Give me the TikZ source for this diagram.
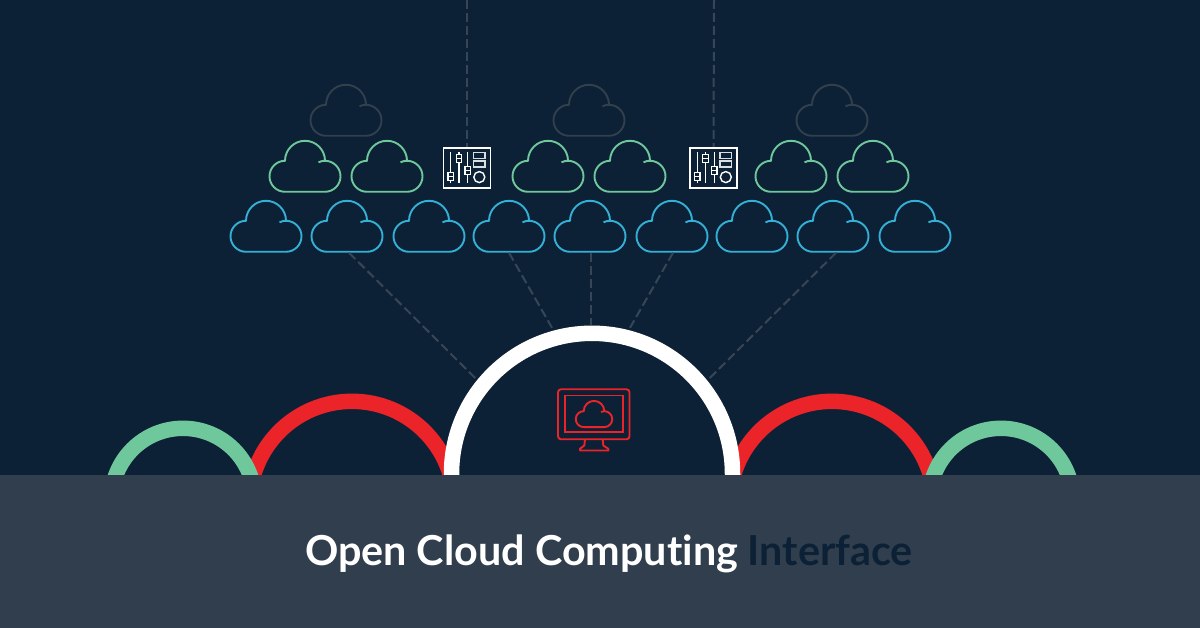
\documentclass[tikz,border=0pt]{standalone}
\usepackage{fontspec}
\setmainfont{Lato}[Ligatures=NoCommon]
\usepackage{tikz}
\usetikzlibrary{positioning, calc}
\definecolor{navybg}{HTML}{0C2135}
\definecolor{bandgray}{HTML}{303E4D}
\definecolor{cloudblue}{HTML}{34AFD6}
\definecolor{cloudgreen}{HTML}{6FC79C}
\definecolor{cloudfaint}{HTML}{323F4D}
\definecolor{archred}{HTML}{EB2429}
\definecolor{dashgray}{HTML}{374656}

\begin{document}
\begin{tikzpicture}[x=1pt, y=1pt,
    cloudicon/.pic={
      \path[draw, pic actions, line join=round] (20,0) -- (-20,0)
        arc[start angle=270, end angle=90, radius=15.5]
        arc[start angle=180, end angle=0, radius=20]
        (13.5,29.5) .. controls (15.5,30.6) and (18,31) .. (20,31)
        arc[start angle=90, end angle=-90, radius=15.5];
      \node[cloudspot] (-box) at (0,25) {};
    },
    mixicon/.pic={
      \node[mixbox] (-box) at (0,0) {};
      \foreach \xx/\hy in {-16.3/-8.7, -8/9, 0.7/-2.7} {
        \draw[white, line width=1.4pt] (\xx,-15.3) -- (\xx,15.3);
        \draw[white, line width=1.3pt, fill=navybg] (\xx-2.7,\hy-4) rectangle (\xx+2.7,\hy+4);
        \draw[white, line width=1pt] (\xx-2.7,\hy) -- (\xx+2.7,\hy);
      }
      \draw[white!85!navybg, line width=1.4pt] (6.5,9) rectangle (18,15);
      \draw[white!85!navybg, line width=1.4pt] (6.5,0.7) rectangle (18,6.7);
      \draw[white, line width=1.4pt] (12.3,-9.3) circle (5.5);
    },
    cloudspot/.style={minimum width=72pt, minimum height=50pt, inner sep=0pt},
    mixbox/.style={rectangle, draw=white, line width=1.6pt, minimum width=47pt,
                   minimum height=40pt, inner sep=0pt},
    blueline/.style={draw=cloudblue, line width=1.9pt},
    greenline/.style={draw=cloudgreen, line width=1.9pt},
    faintline/.style={draw=cloudfaint, line width=1.9pt},
    dashline/.style={draw=dashgray, line width=2pt, dash pattern=on 9pt off 4pt},
    archline/.style={line width=15.5pt},
    iconline/.style={draw=archred, line width=1.9pt}]

    % Background
    \useasboundingbox (0,-0.2) rectangle (1200,626.8);
    \fill[navybg] (-3,-3) rectangle (1203,630);

    % Free ends of the dashed lines
    \coordinate (top1) at (467,627);
    \coordinate (top2) at (714,627);
    \coordinate (arch1) at (477,247);
    \coordinate (arch2) at (552,299);
    \coordinate (arch3) at (591,302);
    \coordinate (arch4) at (630,299);
    \coordinate (arch5) at (708,247);

    % Top row of clouds
    \foreach \nm/\xx in {f1/346, f2/589, f3/832}
      \pic[faintline] (\nm) at (\xx,491) {cloudicon};

    % Middle row of clouds
    \foreach \nm/\xx in {g1/305, g2/387, g3/548, g4/630, g5/791, g6/873}
      \pic[greenline] (\nm) at (\xx,435) {cloudicon};

    % Bottom row of clouds
    \foreach \nm/\xx in {b1/266, b2/347, b3/429, b4/509, b5/590, b6/672, b7/752, b8/833, b9/915}
      \pic[blueline] (\nm) at (\xx,375) {cloudicon};

    % Control panels
    \pic (mix1) at (467,459) {mixicon};
    \pic (mix2) at (713.5,459) {mixicon};

    % Dashed lines
    \draw[dashline] (top1) -- (mix1-box.north);
    \draw[dashline] (top2) -- (mix2-box.north);
    \draw[dashline] ([xshift=2pt]b2-box.south) -- (arch1);
    \draw[dashline] (b4-box.south) -- (arch2);
    \draw[dashline] ([xshift=1pt]b5-box.south) -- (arch3);
    \draw[dashline] ([xshift=1pt]b6-box.south) -- (arch4);
    \draw[dashline] ([xshift=3pt]b8-box.south) -- (arch5);

    % Arches
    \draw[archline, archred] (249.5,123) arc[start angle=180, end angle=0, radius=102.5];
    \draw[archline, archred] (729.5,123) arc[start angle=180, end angle=0, radius=102.5];
    \draw[archline, cloudgreen] (111.5,127) arc[start angle=180, end angle=0, radius=71.5];
    \draw[archline, cloudgreen] (929.5,127) arc[start angle=180, end angle=0, radius=71.5];
    \draw[archline, white] (451.5,140) -- (451.5,153) arc[start angle=180, end angle=0, radius=140.5] -- (732.5,140);

    % Monitor
    \draw[iconline, rounded corners=3pt] (558,187.5) rectangle (629.5,237.5);
    \draw[iconline] (564.7,194.7) rectangle (623.3,231.3);
    \pic[iconline, scale=0.514] (screen) at (594,199.7) {cloudicon};
    \draw[iconline, line join=round] (585,187.5) -- (584.3,181.3) -- (580,178) -- (580,176.3) -- (608.3,176.3)
      -- (608.3,178) -- (603.3,181.3) -- (602.7,187.5);

    % Bottom band and title
    \fill[bandgray] (-3,-3) rectangle (1203,152);
    \node[text=white, font=\fontsize{41.3}{46}\selectfont\bfseries, inner sep=0pt] (title) at (609,73)
      {Open Cloud Computing \textcolor{navybg}{Interface}};

\end{tikzpicture}
\end{document}
